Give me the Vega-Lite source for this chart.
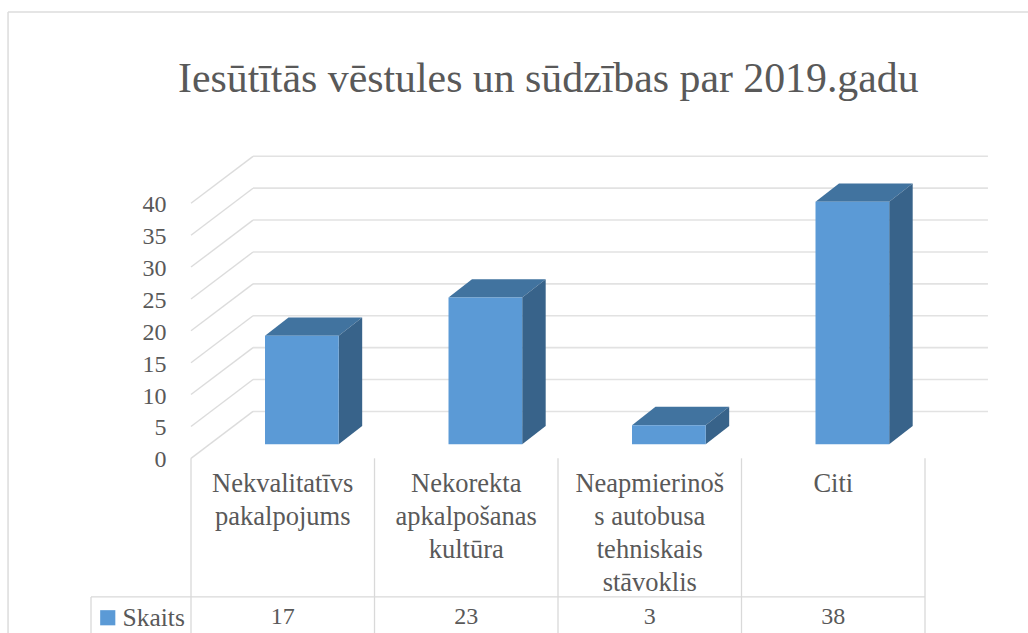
{
"$schema":"https://vega.github.io/schema/vega-lite/v6.json",
"width":1028,"height":633,"padding":0,"autosize":{"type":"none"},
"background":"#ffffff",
"title":{"text":"Iesūtītās vēstules un sūdzības par 2019.gadu","anchor":"start","frame":"group","dx":178,"dy":42,"offset":-92,"baseline":"alphabetic","font":"Liberation Serif","fontSize":41.8,"fontWeight":"normal","color":"#595959"},
"config":{"view":{"stroke":null}},
"datasets":{
"bars":[
{"category":"Nekvalitatīvs pakalpojums","label":"Nekvalitatīvs\npakalpojums","slot":0,"value":17,"series":"Skaits"},
{"category":"Nekorekta apkalpošanas kultūra","label":"Nekorekta\napkalpošanas\nkultūra","slot":1,"value":23,"series":"Skaits"},
{"category":"Neapmierinošs autobusa tehniskais stāvoklis","label":"Neapmierinoš\ns autobusa\ntehniskais\nstāvoklis","slot":2,"value":3,"series":"Skaits"},
{"category":"Citi","label":"Citi","slot":3,"value":38,"series":"Skaits"}
],
"ticks":[{"tick":0},{"tick":5},{"tick":10},{"tick":15},{"tick":20},{"tick":25},{"tick":30},{"tick":35},{"tick":40}],
"columns":[{"edge":0},{"edge":1},{"edge":2},{"edge":3},{"edge":4}],
"one":[{"line":"rule"}]
},
"resolve":{"scale":{"y":"independent"}},
"layer":[
{"data":{"name":"one"},"mark":{"type":"rule","color":"#dcdcdc","strokeWidth":1.5},
 "encoding":{
 "x":{"datum":-0.997,"type":"quantitative","scale":{"domain":[-1.0409,4.5613],"nice":false,"zero":false},"axis":null},
 "x2":{"datum":4.5613},
 "y":{"datum":67.76,"type":"quantitative","scale":{"domain":[-29.58,69.64],"nice":false,"zero":false},"axis":null}}},
{"data":{"name":"one"},"mark":{"type":"rule","color":"#dcdcdc","strokeWidth":1.5},
 "encoding":{
 "x":{"datum":-0.997,"type":"quantitative","scale":{"domain":[-1.0409,4.5613],"nice":false,"zero":false},"axis":null},
 "y":{"datum":67.76,"type":"quantitative","scale":{"domain":[-29.58,69.64],"nice":false,"zero":false},"axis":null},
 "y2":{"datum":-29.58}}},
{"data":{"name":"ticks"},
 "transform":[{"calculate":"datum.tick+5.15","as":"back"}],
 "mark":{"type":"rule","color":"#e2e2e2","strokeWidth":1.6},
 "encoding":{
 "x":{"datum":0.338,"type":"quantitative","scale":{"domain":[-1.0409,4.5613],"nice":false,"zero":false},"axis":null},
 "x2":{"datum":4.343},
 "y":{"field":"back","type":"quantitative","scale":{"domain":[-29.58,69.64],"nice":false,"zero":false},"axis":null}}},
{"data":{"name":"ticks"},
 "transform":[{"calculate":"datum.tick+7.36","as":"backEnd"}],
 "mark":{"type":"rule","color":"#dcdcdc","strokeWidth":1.4},
 "encoding":{
 "x":{"datum":0,"type":"quantitative","scale":{"domain":[-1.0409,4.5613],"nice":false,"zero":false},"axis":null},
 "x2":{"datum":0.338},
 "y":{"field":"tick","type":"quantitative","scale":{"domain":[-27.4,71.89],"nice":false,"zero":false},
  "axis":{"orient":"left","offset":-166,"title":null,"domain":false,"ticks":false,"grid":false,"values":[0,5,10,15,20,25,30,35,40],"labelPadding":0,"labelOffset":1.5,"labelFont":"Liberation Serif","labelFontSize":24,"labelColor":"#595959"}},
 "y2":{"field":"backEnd"}}},
{"data":{"name":"columns"},
 "mark":{"type":"rule","color":"#d9d9d9","strokeWidth":1.3},
 "encoding":{
 "x":{"field":"edge","type":"quantitative","scale":{"domain":[-1.0409,4.5613],"nice":false,"zero":false},"axis":null},
 "y":{"datum":-2.2,"type":"quantitative","scale":{"domain":[-29.58,69.64],"nice":false,"zero":false},"axis":null},
 "y2":{"datum":-29.58}}},
{"data":{"name":"one"},"mark":{"type":"rule","color":"#d9d9d9","strokeWidth":1.3},
 "encoding":{
 "x":{"datum":-0.545,"type":"quantitative","scale":{"domain":[-1.0409,4.5613],"nice":false,"zero":false},"axis":null},
 "x2":{"datum":4},
 "y":{"datum":-23.93,"type":"quantitative","scale":{"domain":[-29.58,69.64],"nice":false,"zero":false},"axis":null}}},
{"data":{"name":"one"},"mark":{"type":"rule","color":"#d9d9d9","strokeWidth":1.3},
 "encoding":{
 "x":{"datum":-0.545,"type":"quantitative","scale":{"domain":[-1.0409,4.5613],"nice":false,"zero":false},"axis":null},
 "y":{"datum":-23.93,"type":"quantitative","scale":{"domain":[-29.58,69.64],"nice":false,"zero":false},"axis":null},
 "y2":{"datum":-29.58}}},
{"data":{"name":"bars"},
 "transform":[
 {"calculate":"[0,1,2,3]","as":"k"},{"flatten":["k"]},
 {"calculate":"[datum.slot+0.4033,datum.slot+0.5313,datum.slot+0.8049,datum.slot+0.9329][datum.k]","as":"px"},
 {"calculate":"[datum.value,datum.value+2.88,datum.value+2.88,datum.value+2.88][datum.k]","as":"py"},
 {"calculate":"[datum.value,datum.value,datum.value,datum.value+2.88][datum.k]","as":"py2"}],
 "mark":{"type":"area","color":"#41739f","interpolate":"linear"},
 "encoding":{
 "x":{"field":"px","type":"quantitative","scale":{"domain":[-1.0409,4.5613],"nice":false,"zero":false},"axis":null},
 "y":{"field":"py","type":"quantitative","scale":{"domain":[-29.58,69.64],"nice":false,"zero":false},"axis":null},
 "y2":{"field":"py2"},
 "detail":{"field":"slot"}}},
{"data":{"name":"bars"},
 "transform":[
 {"calculate":"[0,1]","as":"k"},{"flatten":["k"]},
 {"calculate":"datum.slot+0.8049+datum.k*0.128","as":"px"},
 {"calculate":"datum.value+datum.k*2.88","as":"py"},
 {"calculate":"datum.k*2.88","as":"py2"}],
 "mark":{"type":"area","color":"#38638a","interpolate":"linear"},
 "encoding":{
 "x":{"field":"px","type":"quantitative","scale":{"domain":[-1.0409,4.5613],"nice":false,"zero":false},"axis":null},
 "y":{"field":"py","type":"quantitative","scale":{"domain":[-29.58,69.64],"nice":false,"zero":false},"axis":null},
 "y2":{"field":"py2"},
 "detail":{"field":"slot"}}},
{"data":{"name":"bars"},
 "transform":[
 {"calculate":"datum.slot+0.4033","as":"xl"},
 {"calculate":"datum.slot+0.8049","as":"xr"}],
 "mark":{"type":"bar"},
 "encoding":{
 "x":{"field":"xl","type":"quantitative","scale":{"domain":[-1.0409,4.5613],"nice":false,"zero":false},"axis":null},
 "x2":{"field":"xr"},
 "y":{"field":"value","type":"quantitative","scale":{"domain":[-29.58,69.64],"nice":false,"zero":false},"axis":null},
 "y2":{"datum":0},
 "color":{"field":"series","type":"nominal","scale":{"range":["#5b9ad6"]},
  "legend":{"orient":"none","legendX":95,"legendY":605,"title":null,"symbolType":"square","symbolSize":230,"symbolStrokeWidth":0,"labelFont":"Liberation Serif","labelFontSize":25.5,"labelColor":"#595959","labelOffset":2}}}},
{"data":{"name":"bars"},
 "transform":[{"calculate":"datum.slot+0.5","as":"mid"}],
 "mark":{"type":"text","font":"Liberation Serif","fontSize":26.5,"color":"#595959","align":"center","baseline":"alphabetic","lineBreak":"\n","lineHeight":33},
 "encoding":{
 "x":{"field":"mid","type":"quantitative","scale":{"domain":[-1.0409,4.5613],"nice":false,"zero":false},"axis":null},
 "y":{"datum":-7.48,"type":"quantitative","scale":{"domain":[-29.58,69.64],"nice":false,"zero":false},"axis":null},
 "text":{"field":"label"}}},
{"data":{"name":"bars"},
 "transform":[{"calculate":"datum.slot+0.5","as":"mid"}],
 "mark":{"type":"text","font":"Liberation Serif","fontSize":24,"color":"#595959","align":"center","baseline":"alphabetic"},
 "encoding":{
 "x":{"field":"mid","type":"quantitative","scale":{"domain":[-1.0409,4.5613],"nice":false,"zero":false},"axis":null},
 "y":{"datum":-28.2,"type":"quantitative","scale":{"domain":[-29.58,69.64],"nice":false,"zero":false},"axis":null},
 "text":{"field":"value","type":"quantitative"}}}
]
}
